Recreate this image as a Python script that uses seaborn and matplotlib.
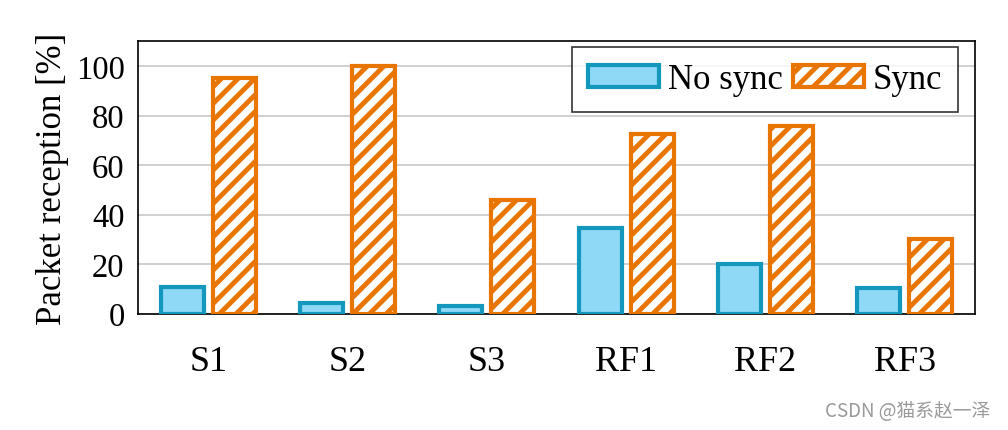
import pandas as pd
import matplotlib
matplotlib.use("Agg")
import matplotlib.pyplot as plt
import seaborn as sns
from matplotlib.patches import Patch

# data
categories = ["S1", "S2", "S3", "RF1", "RF2", "RF3"]
no_sync = [10.6, 4.2, 3.2, 34.6, 20.2, 10.3]
sync = [95.1, 100.0, 45.9, 72.7, 76.0, 30.1]
series = ["No sync", "Sync"]

df = pd.DataFrame({
    "Scenario": categories * 2,
    "Series": [series[0]] * len(categories) + [series[1]] * len(categories),
    "Reception": no_sync + sync,
})

blue_fill = "#8fd8f6"
blue_edge = "#1497bd"
orange = "#e87500"

sns.set_style("white")
plt.rcParams["font.family"] = ["Liberation Serif", "DejaVu Serif"]
plt.rcParams["hatch.linewidth"] = 3.5
plt.rcParams["text.color"] = "black"
plt.rcParams["xtick.color"] = "black"
plt.rcParams["ytick.color"] = "black"
plt.rcParams["axes.labelcolor"] = "black"

fig = plt.figure(figsize=(10.08, 4.31), dpi=100)
ax = fig.add_axes([0.1374, 0.2703, 0.8294, 0.6311])

sns.barplot(data=df, x="Scenario", y="Reception", hue="Series",
            palette=[blue_fill, "white"], width=0.746, gap=0.174,
            legend=False, ax=ax, zorder=3)

n = len(categories)
for i, p in enumerate(ax.patches[:2 * n]):
    p.set_linewidth(3)
    if i < n:
        p.set_edgecolor(blue_edge)
        p.set_facecolor(blue_fill)
    else:
        p.set_edgecolor(orange)
        p.set_facecolor("white")
        p.set_hatch("//")

ax.set_ylim(0, 110)
ax.set_xlim(-0.5, n - 0.5)
ax.set_yticks([0, 20, 40, 60, 80, 100])
ax.yaxis.grid(True, color="#c8c8c8", linewidth=1.2, zorder=0)
ax.set_axisbelow(True)
for s in ax.spines.values():
    s.set_color("black")
    s.set_linewidth(1.2)
ax.tick_params(axis="x", length=0, pad=23, labelsize=26)
ax.tick_params(axis="y", length=0, pad=10, labelsize=23.5)
ax.set_xlabel("")
ax.set_ylabel("Packet reception [%]", fontsize=25, labelpad=5)

handles = [
    Patch(facecolor=blue_fill, edgecolor=blue_edge, linewidth=3, label=series[0]),
    Patch(facecolor="white", edgecolor=orange, linewidth=3, hatch="//", label=series[1]),
]
leg = ax.legend(handles=handles, loc="upper right", bbox_to_anchor=(0.98, 0.978),
                ncol=2, fontsize=25, frameon=True, fancybox=False,
                handlelength=2.05, handleheight=0.6, columnspacing=0.3,
                handletextpad=0.25, borderpad=0.45, borderaxespad=0)
leg.get_frame().set_edgecolor("black")
leg.get_frame().set_linewidth(1.2)

fig.text(0.982, 0.045, "CSDN @猫系赵一泽", ha="right", va="center", fontsize=13.5,
         color="#9a9a9a", family=["Noto Sans CJK SC", "DejaVu Sans"])

fig.savefig("out.png", dpi=100)
